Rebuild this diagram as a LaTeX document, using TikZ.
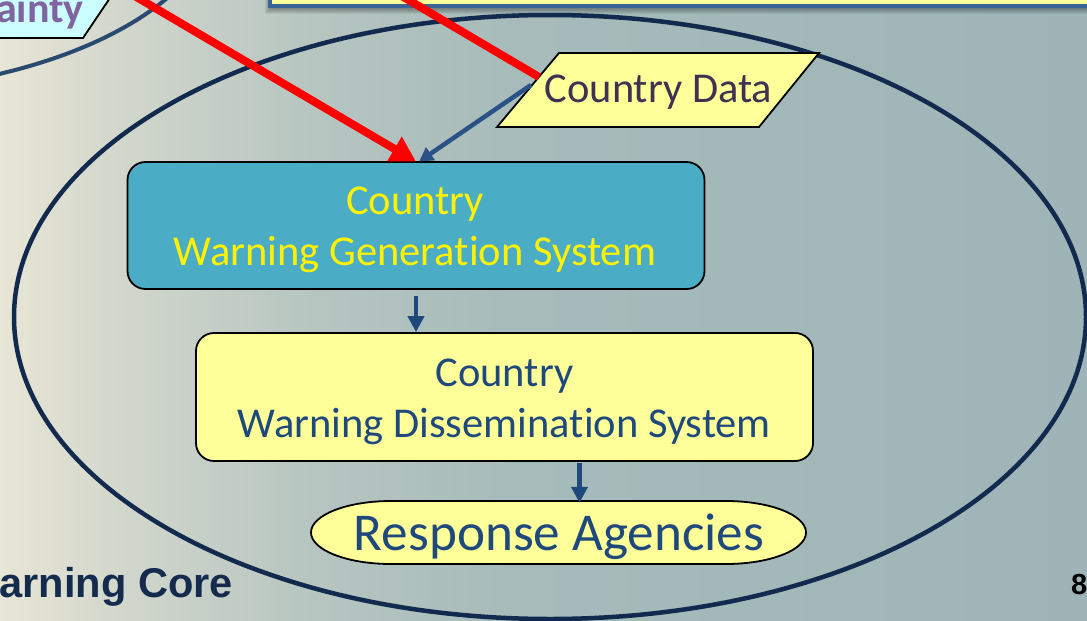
\documentclass[tikz,border=0pt]{standalone}
\usepackage{fontspec}
\setmainfont{Carlito}[Ligatures=NoCommon]
\newfontfamily\labelsans{Liberation Sans}
\usetikzlibrary{arrows.meta}

% palette
\definecolor{bg0}{HTML}{E8E6D6}
\definecolor{bg1}{HTML}{D2D7CC}
\definecolor{bg2}{HTML}{B8C6C1}
\definecolor{bg3}{HTML}{A6BBBA}
\definecolor{bg4}{HTML}{9EB4B7}
\definecolor{corenavy}{HTML}{112A4D}
\definecolor{linknavy}{HTML}{2B4A71}
\definecolor{flowblue}{HTML}{1F497D}
\definecolor{feedblue}{HTML}{2A5287}
\definecolor{paleyellow}{HTML}{FFFF99}
\definecolor{tealbox}{HTML}{4BACC6}
\definecolor{panelblue}{HTML}{3B6496}
\definecolor{datapurple}{HTML}{3F3151}
\definecolor{lilac}{HTML}{8064A2}
\definecolor{palecyan}{HTML}{CCFFFF}
\definecolor{titlenavy}{HTML}{142B4D}

% backdrop: warm cream on the left fading to grey-blue on the right
\pgfdeclarehorizontalshading{backdrop}{100bp}{%
  color(0bp)=(bg0); color(25bp)=(bg0); color(30.52bp)=(bg1);
  color(38.8bp)=(bg2); color(48.92bp)=(bg3); color(75bp)=(bg4);
  color(100bp)=(bg4)}

\begin{document}
\begin{tikzpicture}[x=1pt,y=-1pt,
  panel/.style={draw=black, line width=1.8, rounded corners=18, inner sep=0},
  bigtext/.style={font=\fontsize{42.5}{51}\selectfont, inner sep=0, anchor=base},
  flow/.style={draw=flowblue, line width=4.5, -{Triangle[length=16pt,width=16pt]}},
  feed/.style={draw=feedblue, line width=4.5, -{Triangle[length=14pt,width=15pt]}},
  alert/.style={draw=red, line width=8},
]
\useasboundingbox (0,0) rectangle (1087,621);
\clip (0,0) rectangle (1087,621);
\shade[shading=backdrop] (0,0) rectangle (1087,621);

% neighbouring loop on the upper left
\draw[linknavy, line width=4] (-5,75) .. controls (60,60) and (125,35) .. (172,-6);

% uncertainty tag
\filldraw[fill=palecyan, draw=black, line width=1.8]
  (-5,-5) -- (112,-5) -- (83,38) -- (-5,38) -- cycle;
\node[font=\fontsize{42}{50}\selectfont\bfseries, text=lilac, anchor=base east, inner sep=0]
  (unc) at (84,23) {ainty};

% panel along the top edge with its soft shadow
\foreach \k in {1,...,7}
  \fill[black, opacity=0.06] (272-\k,-10) rectangle (1100,7+\k);
\fill[paleyellow] (270,-10) rectangle (1100,6);
\draw[panelblue, line width=3.5] (270,-10) -- (270,6) -- (1100,6);

% warning core region
\draw[corenavy, line width=4.5] (550,317) ellipse [x radius=536pt, y radius=302pt];

% generation system
\node[panel, fill=tealbox, minimum width=577, minimum height=127] (gen) at (416,225.5) {};
\node[bigtext, text=yellow] (genA) at (415,214) {Country};
\node[bigtext, text=yellow] (genB) at (415,265) {Warning Generation System};

% dissemination system
\node[panel, fill=paleyellow, minimum width=617, minimum height=128] (dis) at (504.5,397) {};
\node[bigtext, text=flowblue] (disA) at (504.5,386) {Country};
\node[bigtext, text=flowblue] (disB) at (504.5,437) {Warning Dissemination System};

% response agencies terminator
\node[minimum width=495, minimum height=63, inner sep=0] (resp) at (558.5,532.5) {};
\filldraw[fill=paleyellow, draw=black, line width=1.8]
  (391,501) -- (726,501)
  arc[start angle=90, end angle=-90, x radius=80pt, y radius=31.5pt]
  -- (391,564)
  arc[start angle=270, end angle=90, x radius=80pt, y radius=31.5pt] -- cycle;
\node[font=\fontsize{53.2}{64}\selectfont, text=flowblue, inner sep=0, anchor=base]
  (respT) at (559,550) {Response Agencies};

% country data input
\filldraw[fill=paleyellow, draw=black, line width=1.8]
  (497,127) -- (559,53) -- (819,53) -- (759,127) -- cycle;
\node[bigtext, text=datapurple] (cdata) at (658.5,102) {Country Data};
\coordinate (cdin) at (539,77);
\coordinate (cdout) at (531,85);

% connectors
\coordinate (redA) at (133,-5);
\coordinate (redB) at (400,-5);
\draw[alert] (redB) -- (cdin);
\draw[alert, -{Triangle[length=25pt,width=27pt]}] (redA) -- ([yshift=-0.5]gen.north);
\draw[feed] (cdout) -- ([xshift=3,yshift=-0.5]gen.north);
\draw[flow] ([yshift=-6]gen.south) -- (gen.south |- dis.north);
\draw[flow] ([xshift=75,yshift=-1]dis.south) -- ([xshift=21,yshift=-2]resp.north);

% footer texts
\node[font={\labelsans\bfseries\fontsize{41.6}{50}\selectfont}, text=titlenavy,
  anchor=base east, inner sep=0] (core) at (233,597) {arning Core};
\node[font={\labelsans\bfseries\fontsize{29}{35}\selectfont}, text=black,
  anchor=base west, inner sep=0] (page) at (1071,594) {8};
\end{tikzpicture}
\end{document}
